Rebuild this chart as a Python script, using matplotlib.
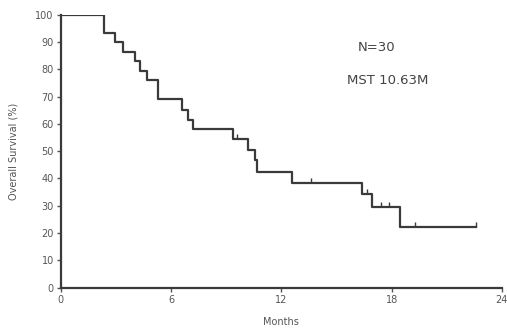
import numpy as np
import matplotlib
matplotlib.use("Agg")
import matplotlib.pyplot as plt

# Kaplan-Meier steps (months, % surviving)
step_months = [0, 2.35, 2.95, 3.4, 4.04, 4.31, 4.67, 5.3, 6.58, 6.94, 7.2,
               9.38, 10.2, 10.55, 10.7, 12.6, 16.4, 16.95, 18.48, 22.6]
step_surv = [100, 93.3, 90.0, 86.5, 83.0, 79.5, 76.0, 69.0, 65.2, 61.5, 58.0,
             54.4, 50.5, 46.8, 42.5, 38.3, 34.4, 29.4, 22.3, 22.3]

# censored observations
censor_months = [9.6, 13.6, 16.66, 17.4, 17.85, 19.25, 22.6]

x_ticks = [0, 6, 12, 18, 24]
y_ticks = list(range(0, 101, 10))

n_label = "N=30"
mst_label = "MST 10.63M"

line_col = "#3a3a3a"
tick_col = "#555555"


def surv_at(t):
    # value of the step curve at time t
    idx = np.searchsorted(step_months, t, side="right") - 1
    return step_surv[idx]


fig = plt.figure(figsize=(5.07, 3.31), dpi=100)
ax = fig.add_axes([0.1197, 0.131, 0.8703, 0.8246])

ax.step(step_months, step_surv, where="post", color=line_col, lw=1.6)
censor_vals = [surv_at(t) for t in censor_months]
ax.plot(censor_months, censor_vals, ls="none", marker=2, ms=3.5,
        mew=1.0, color=line_col)

ax.set_xlim(0, 24)
ax.set_ylim(0, 100)
ax.set_xticks(x_ticks)
ax.set_yticks(y_ticks)
ax.tick_params(axis="both", labelsize=7, colors=tick_col, length=3,
               width=1.0, direction="out", pad=2)

for side in ["top", "right"]:
    ax.spines[side].set_visible(False)
for side in ["left", "bottom"]:
    ax.spines[side].set_color(line_col)
    ax.spines[side].set_linewidth(1.6)

ax.set_xlabel("Months", fontsize=7, color=tick_col, labelpad=9)
ax.set_ylabel("Overall Survival (%)", fontsize=7, color=tick_col, labelpad=12)

ax.text(17.2, 88, n_label, fontsize=9.5, color="#444444", ha="center", va="center")
ax.text(17.8, 76, mst_label, fontsize=9.5, color="#444444", ha="center", va="center")

fig.savefig("out.png", dpi=100)
